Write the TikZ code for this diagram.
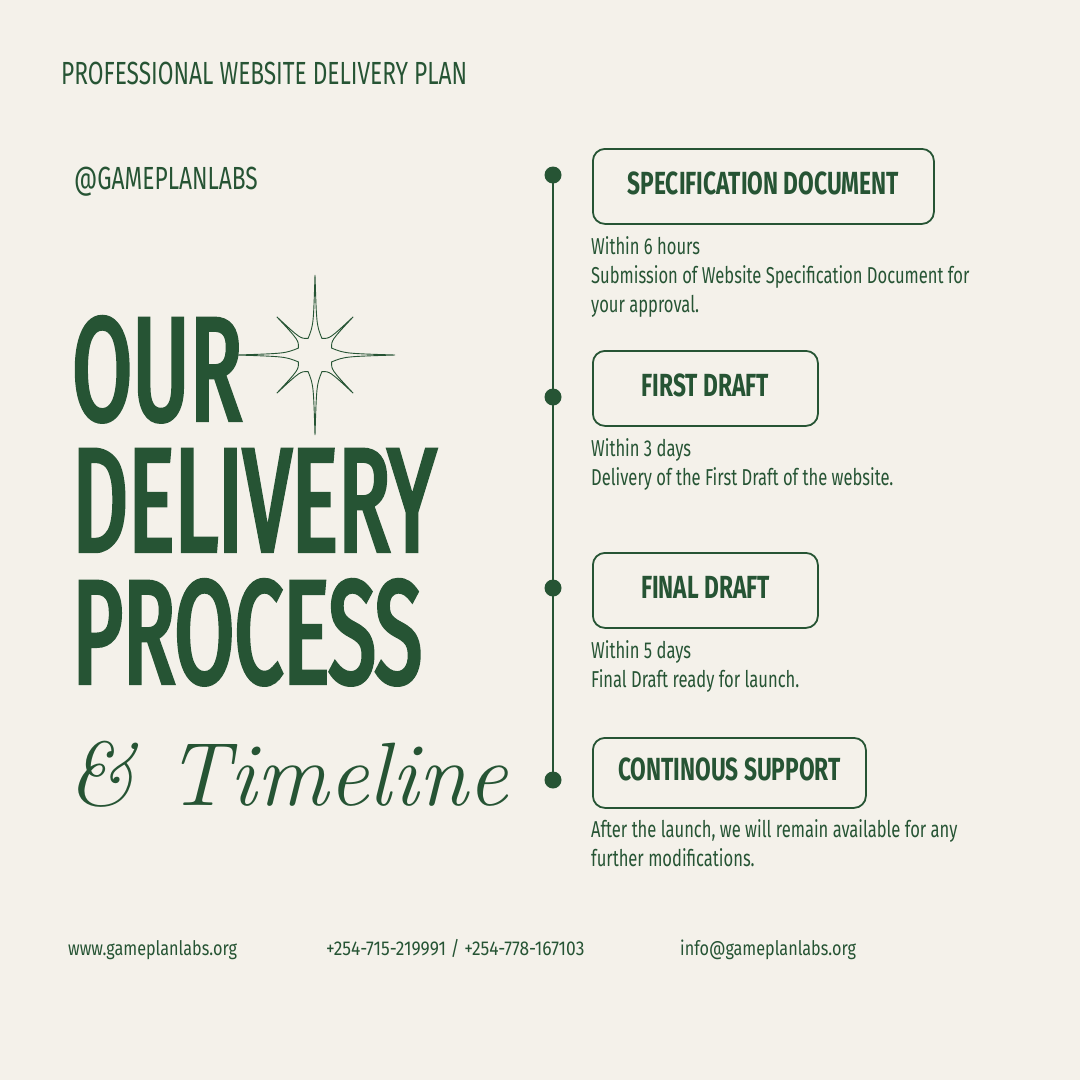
\documentclass[tikz,border=0pt]{standalone}
\usepackage{fontspec}
\usepackage{xcolor}
\usetikzlibrary{positioning}
\newfontfamily\bigfont[FakeStretch=0.59,FakeBold=3]{Fira Sans}
\newfontfamily\capfont[FakeStretch=0.71]{Fira Sans}
\newfontfamily\txtfont[FakeStretch=0.72]{Fira Sans}
\newfontfamily\footfont[FakeStretch=0.81]{Fira Sans}
\newfontfamily\phonefont[FakeStretch=0.87]{Fira Sans}
\definecolor{leaf}{HTML}{265434}
\definecolor{paper}{HTML}{F4F1EA}

\begin{document}
\begin{tikzpicture}[x=1pt,y=-1pt,
    every node/.style={text=leaf,inner sep=0pt},
    headline/.style={anchor=base west,font=\capfont\fontsize{32}{32}\selectfont},
    bigword/.style={anchor=base west,text height=102pt,text depth=0pt,
      font=\bigfont\fontsize{147}{147}\selectfont},
    stagebox/.style={draw=leaf,line width=1.8pt,rounded corners=12pt,anchor=north west,
      minimum height=75pt,text height=22pt,text depth=6pt,
      font=\capfont\bfseries\fontsize{32}{32}\selectfont},
    stagetext/.style={anchor=base west,align=left,font=\txtfont\fontsize{23}{29}\selectfont},
    footer/.style={anchor=base west,font=\footfont\fontsize{20}{20}\selectfont},
    stagedot/.style={circle,fill=leaf,minimum size=17pt}
  ]
  \fill[paper] (0,0) rectangle (1080,1080);
  \useasboundingbox (0,0) rectangle (1080,1080);

  % left column
  \node[headline] (title) at (61,84) {PROFESSIONAL WEBSITE DELIVERY PLAN};
  \node[headline] (handle) at (74,189) {@GAMEPLANLABS};
  \node[bigword] (our) at (72,420) {OUR};
  \node[bigword] (delivery) at (72,551) {DELIVERY};
  \node[bigword] (process) at (72,683) {PROCESS};
  \node[anchor=base west,font=\itshape\fontsize{90}{90}\selectfont] (script) at (67,805) {\& Timeline};

  % sparkle
  \begin{scope}[shift={(315,355)}]
    \draw[leaf,line width=0.9pt] (-22.5:18)
      \foreach \a/\r/\c in {0/80/30,45/54/22,90/80/30,135/54/22,180/78/30,225/54/22,270/80/30,315/54/22}
      { .. controls ({\a-3}:\c) .. (\a:\r) .. controls ({\a+3}:\c) .. ({\a+22.5}:18) } -- cycle;
  \end{scope}

  % timeline
  \node[stagedot] (d1) at (553,175) {};
  \node[stagedot] (d2) at (553,397) {};
  \node[stagedot] (d3) at (553,588) {};
  \node[stagedot] (d4) at (553,780) {};
  \draw[leaf,line width=2.5pt] (d1.center) -- (d4.center);

  \node[stagebox,minimum width=341pt] (spec) at (592,148) {SPECIFICATION DOCUMENT};
  \node[stagebox,minimum width=225pt] (first) at (592,350) {FIRST DRAFT};
  \node[stagebox,minimum width=225pt] (final) at (592,552) {FINAL DRAFT};
  \node[stagebox,minimum width=273pt,minimum height=70pt] (support) at (592,737) {CONTINOUS SUPPORT};

  % base of a multi-line node is its last line
  \node[stagetext] (spectxt) at (591,312) {Within 6 hours\\Submission of Website Specification Document for\\your approval.};
  \node[stagetext] (firsttxt) at (591,485) {Within 3 days\\Delivery of the First Draft of the website.};
  \node[stagetext] (finaltxt) at (591,687) {Within 5 days\\Final Draft ready for launch.};
  \node[stagetext] (supporttxt) at (591,866) {After the launch, we will remain available for any\\further modifications.};

  % contacts
  \node[footer] (web) at (68,955) {www.gameplanlabs.org};
  \node[footer,font=\phonefont\fontsize{20}{20}\selectfont] (phone) at (326,955) {+254-715-219991 / +254-778-167103};
  \node[footer] (mail) at (680,955) {info@gameplanlabs.org};
\end{tikzpicture}
\end{document}
